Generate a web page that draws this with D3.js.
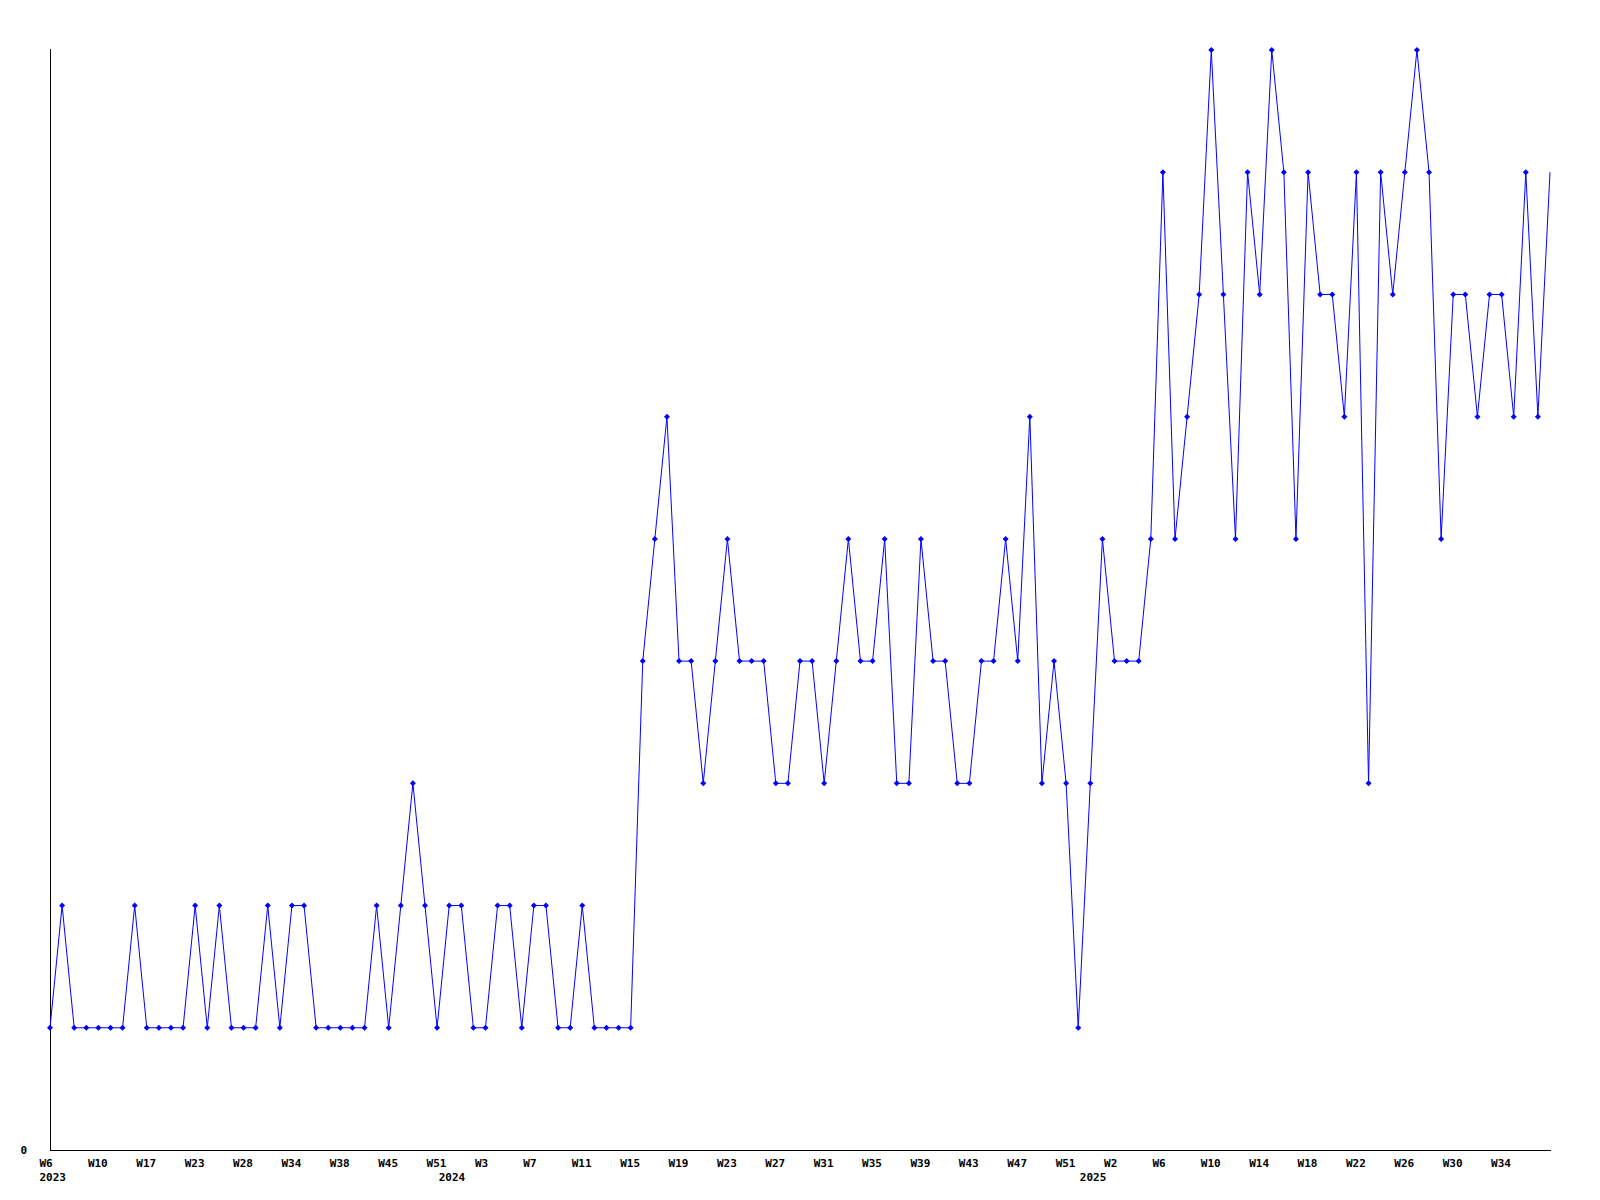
<!DOCTYPE html>
<html>
<head>
<meta charset="utf-8">
<script src="https://cdn.jsdelivr.net/npm/d3@7"></script>
<style>
  body { margin: 0; background: #fff; }
  text { font-family: "DejaVu Sans Mono", monospace; font-weight: bold; font-size: 11px; fill: #000; }
</style>
</head>
<body>
<div id="chart"></div>
<script>
// weekly counts, one per point (x is the point index)
const counts = [
  1, 2, 1, 1, 1, 1, 1, 2, 1, 1, 1, 1, 2, 1, 2, 1, 1, 1, 2, 1, 2, 2, 1, 1, 1,
  1, 1, 2, 1, 2, 3, 2, 1, 2, 2, 1, 1, 2, 2, 1, 2, 2, 1, 1, 2, 1, 1, 1, 1,
  4, 5, 6, 4, 4, 3, 4, 5, 4, 4, 4, 3, 3, 4, 4, 3, 4, 5, 4, 4, 5, 3, 3, 5, 4,
  4, 3, 3, 4, 4, 5, 4, 6, 3, 4, 3, 1, 3, 5, 4, 4, 4, 5,
  8, 5, 6, 7, 9, 7, 5, 8, 7, 9, 8, 5, 8, 7, 7, 6, 8, 3, 8, 7, 8, 9, 8, 5, 7, 7, 6, 7, 7, 6, 8, 6, 8
];

// a week label every 4th point
const tickLabels = [
  "W6", "W10", "W17", "W23", "W28", "W34", "W38", "W45", "W51",
  "W3", "W7", "W11", "W15", "W19", "W23", "W27", "W31", "W35", "W39", "W43", "W47", "W51",
  "W2", "W6", "W10", "W14", "W18", "W22", "W26", "W30", "W34"
];
const tickStep = 4;

const yearLabels = ["2023", "2024", "2025"];
const yearIndex = [0, 33, 86];

const yMax = 9;

const margin = { top: 50, right: 50, bottom: 50, left: 50 };
const width = 1600;
const height = 1200;

const x = d3.scaleLinear()
    .domain([0, counts.length - 1])
    .range([margin.left, width - margin.right]);

const y = d3.scaleLinear()
    .domain([0, yMax])
    .range([height - margin.bottom, margin.top]);

const svg = d3.select("#chart").append("svg")
    .attr("width", width)
    .attr("height", height);

// axes, drawn as plain lines
svg.append("line")
    .attr("x1", margin.left + 0.5).attr("x2", margin.left + 0.5)
    .attr("y1", y(yMax) - 1).attr("y2", y(0))
    .attr("stroke", "#000");

svg.append("line")
    .attr("x1", margin.left).attr("x2", x(counts.length - 1) + 1)
    .attr("y1", y(0) + 0.5).attr("y2", y(0) + 0.5)
    .attr("stroke", "#000");

svg.append("text")
    .attr("x", 27)
    .attr("y", y(0) + 4)
    .attr("text-anchor", "end")
    .text("0");

svg.selectAll(".tick-label")
    .data(tickLabels)
    .enter().append("text")
    .attr("class", "tick-label")
    .attr("x", (d, i) => x(i * tickStep) - 10.5)
    .attr("y", y(0) + 17)
    .text(d => d);

svg.selectAll(".year-label")
    .data(yearLabels)
    .enter().append("text")
    .attr("class", "year-label")
    .attr("x", (d, i) => x(yearIndex[i]) - 10.5)
    .attr("y", y(0) + 31)
    .text(d => d);

svg.append("clipPath")
    .attr("id", "plot-clip")
    .append("rect")
    .attr("x", 0).attr("y", 0)
    .attr("width", x(counts.length - 1) + 1)
    .attr("height", height);

const line = d3.line()
    .x((d, i) => x(i))
    .y(d => y(d));

const plot = svg.append("g").attr("clip-path", "url(#plot-clip)");

plot.append("path")
    .datum(counts)
    .attr("fill", "none")
    .attr("stroke", "#0000ff")
    .attr("stroke-width", 1)
    .attr("d", line);

// small diamond markers
plot.selectAll(".marker")
    .data(counts.slice(0, counts.length - 1))
    .enter().append("path")
    .attr("class", "marker")
    .attr("transform", (d, i) => `translate(${x(i)},${y(d)})`)
    .attr("d", "M0,-3L3,0L0,3L-3,0Z")
    .attr("fill", "#0000ff");
</script>
</body>
</html>
